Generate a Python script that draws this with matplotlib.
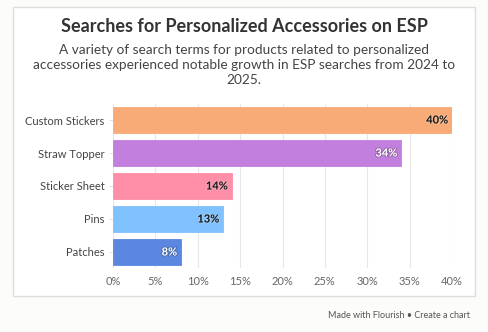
import matplotlib
matplotlib.use("Agg")
import matplotlib.pyplot as plt
from matplotlib.patches import Rectangle
import matplotlib.patheffects as pe

categories = ["Custom Stickers", "Straw Topper", "Sticker Sheet", "Pins", "Patches"]
values = [40, 34, 14, 13, 8]
colors = ["#f9ab77", "#c27fdd", "#ff8fa8", "#80c2ff", "#5b87e0"]
label_colors = ["#1a1a1a", "#ffffff", "#1a1a1a", "#1a1a1a", "#ffffff"]
x_ticks = [0, 5, 10, 15, 20, 25, 30, 35, 40]

title = "Searches for Personalized Accessories on ESP"
subtitle = ("A variety of search terms for products related to personalized\n"
            "accessories experienced notable growth in ESP searches from 2024 to\n"
            "2025.")
footer = "Made with Flourish \u2022 Create a chart"

plt.rcParams["font.family"] = ["Lato", "DejaVu Sans"]

W, H = 488, 332
fig = plt.figure(figsize=(W / 100, H / 100), dpi=100)
fig.patch.set_facecolor("#fcfcfa")

# card panel behind everything
card = Rectangle((13 / W, 1 - 296 / H), (475 - 13) / W, (296 - 7) / H,
                 transform=fig.transFigure, facecolor="white",
                 edgecolor="#dddddd", linewidth=1.0, zorder=-10)
fig.patches.append(card)

fig.text(244 / W, 1 - 26 / H, title, ha="center", va="center",
         fontsize=13, fontweight="bold", color="#333333")
fig.text(244 / W, 1 - 65 / H, subtitle, ha="center", va="center",
         fontsize=9.8, color="#444444", linespacing=1.3)
fig.text(470 / W, 1 - 316 / H, footer, ha="right", va="center",
         fontsize=6.5, color="#555555")

ax = fig.add_axes([113 / W, 1 - 268 / H, (452 - 113) / W, (268 - 104) / H])
ax.set_facecolor("none")
ax.set_zorder(5)
ypos = list(range(len(categories)))
bars = ax.barh(ypos, values, height=0.79, color=colors,
               linewidth=0.6, zorder=2)
for b, c in zip(bars, colors):
    b.set_edgecolor(c)

for y, v, lc in zip(ypos, values, label_colors):
    stroke = "#000000" if lc == "#ffffff" else "#ffffff"
    t = ax.text(v - 0.45, y, f"{v}%", ha="right", va="center",
                fontsize=8, fontweight="bold", color=lc, zorder=3)
    t.set_path_effects([pe.withStroke(linewidth=1.2, foreground=stroke, alpha=0.25)])

ax.set_xlim(0, 40)
ax.set_ylim(len(categories) - 0.515, -0.485)
ax.set_xticks(x_ticks)
ax.set_xticklabels([f"{t}%" for t in x_ticks])
ax.set_yticks(ypos)
ax.set_yticklabels(categories)
ax.grid(axis="x", color="#e8e8e8", linewidth=0.8, zorder=0)
ax.set_axisbelow(True)
for s in ax.spines.values():
    s.set_visible(False)
ax.tick_params(axis="x", length=0, pad=6, labelsize=8, labelcolor="#666666")
ax.tick_params(axis="y", length=3, width=0.6, color="#dddddd", pad=3,
               labelsize=8, labelcolor="#444444")

fig.savefig("out.png", dpi=100, facecolor=fig.get_facecolor())
